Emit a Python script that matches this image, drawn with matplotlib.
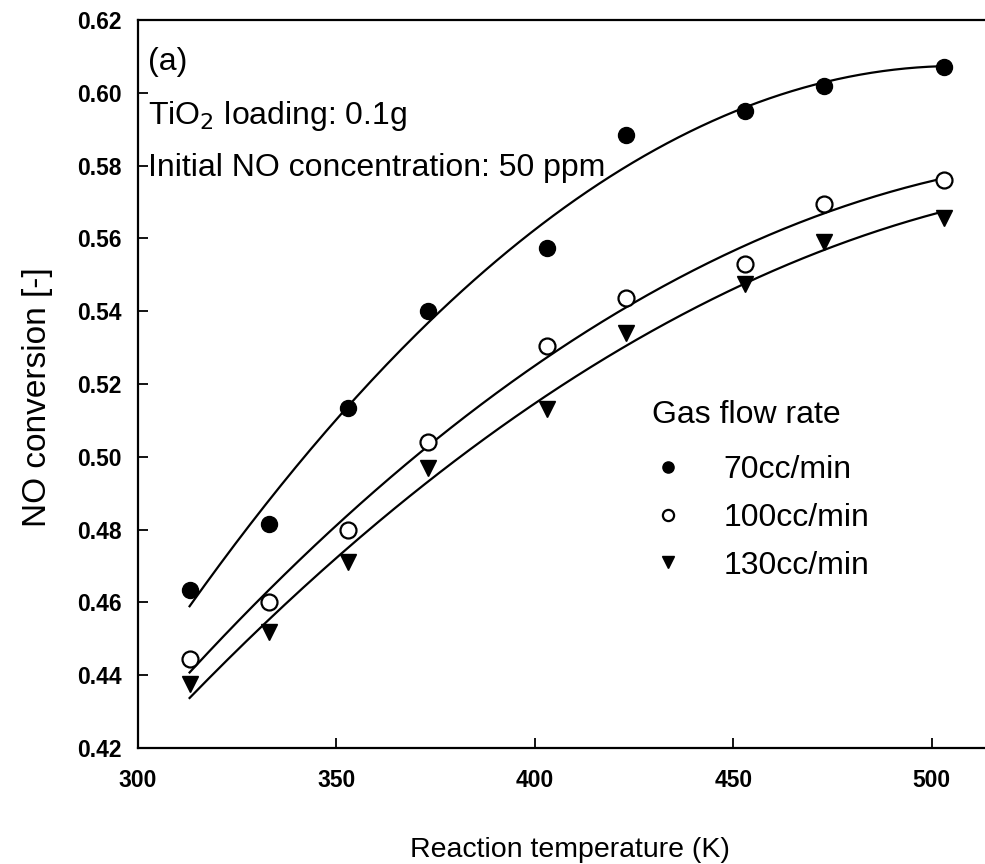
import numpy as np
import matplotlib
matplotlib.use("Agg")
import matplotlib.pyplot as plt

plt.rcParams['font.family'] = ['Liberation Sans', 'DejaVu Sans']

temperature = [313, 333, 353, 373, 403, 423, 453, 473, 503]
conv_70 = [0.4635, 0.4815, 0.5135, 0.5400, 0.5575, 0.5885, 0.5950, 0.6020, 0.6070]
conv_100 = [0.4445, 0.4600, 0.4800, 0.5040, 0.5305, 0.5435, 0.5530, 0.5695, 0.5760]
conv_130 = [0.4375, 0.4520, 0.4710, 0.4970, 0.5130, 0.5340, 0.5475, 0.5590, 0.5655]
series_labels = ['70cc/min', '100cc/min', '130cc/min']
legend_title = 'Gas flow rate'
xticks = [300, 350, 400, 450, 500]
yticks = [0.42, 0.44, 0.46, 0.48, 0.50, 0.52, 0.54, 0.56, 0.58, 0.60, 0.62]

fig = plt.figure(figsize=(9.85, 8.64), dpi=100)
ax = fig.add_axes([138/985, 1-748/864, 873/985, (748-20)/864])

styles = [dict(marker='o', color='black', mfc='black', ms=11.5),
          dict(marker='o', color='black', mfc='white', ms=11.5, mew=1.6),
          dict(marker='v', color='black', mfc='black', ms=11.5)]

t = np.array(temperature, dtype=float)
tt = np.linspace(t.min(), t.max(), 200)
handles = []
for y, st, lab in zip([conv_70, conv_100, conv_130], styles, series_labels):
    coef = np.polyfit(t, y, 2)
    ax.plot(tt, np.polyval(coef, tt), color='black', lw=1.6)
    h, = ax.plot(t, y, linestyle='none', label=lab, **st)
    handles.append(h)

ax.set_xlim(300, 520)
ax.set_ylim(0.42, 0.62)
ax.set_xticks(xticks)
ax.set_yticks(yticks)
ax.set_yticklabels([f'{v:.2f}' for v in yticks])
ax.tick_params(direction='in', length=7, width=1.3, labelsize=16.5)
for lbl in ax.get_xticklabels() + ax.get_yticklabels():
    lbl.set_fontweight('bold')
for s in ax.spines.values():
    s.set_linewidth(1.6)
ax.tick_params(axis='x', pad=15)
ax.tick_params(axis='y', pad=12)

ax.set_xlabel('Reaction temperature (K)', fontsize=20.5)
ax.xaxis.set_label_coords((570-138)/873, -0.122)
ax.set_ylabel('NO conversion [-]', fontsize=24)
ax.yaxis.set_label_coords(-0.097, (748-397)/728)

ax.text(0.0115, 0.931, '(a)', transform=ax.transAxes, fontsize=23, va='baseline', ha='left')
ax.text(0.0115, 0.857, 'TiO$_2$ loading: 0.1g', transform=ax.transAxes, fontsize=23, va='baseline', ha='left')
ax.text(0.0115, 0.786, 'Initial NO concentration: 50 ppm', transform=ax.transAxes, fontsize=23, va='baseline', ha='left')

ax.text((652-138)/873, (748-423)/728, legend_title, transform=ax.transAxes,
        fontsize=23, va='baseline', ha='left')
leg = ax.legend(handles=handles, frameon=False,
                loc='upper left', bbox_to_anchor=((646-138)/873, (748-449)/728),
                fontsize=23, markerscale=0.7, borderaxespad=0,
                handlelength=1.0, handletextpad=1.22, labelspacing=0.55,
                borderpad=0.2)

fig.savefig('out.png', dpi=100)
